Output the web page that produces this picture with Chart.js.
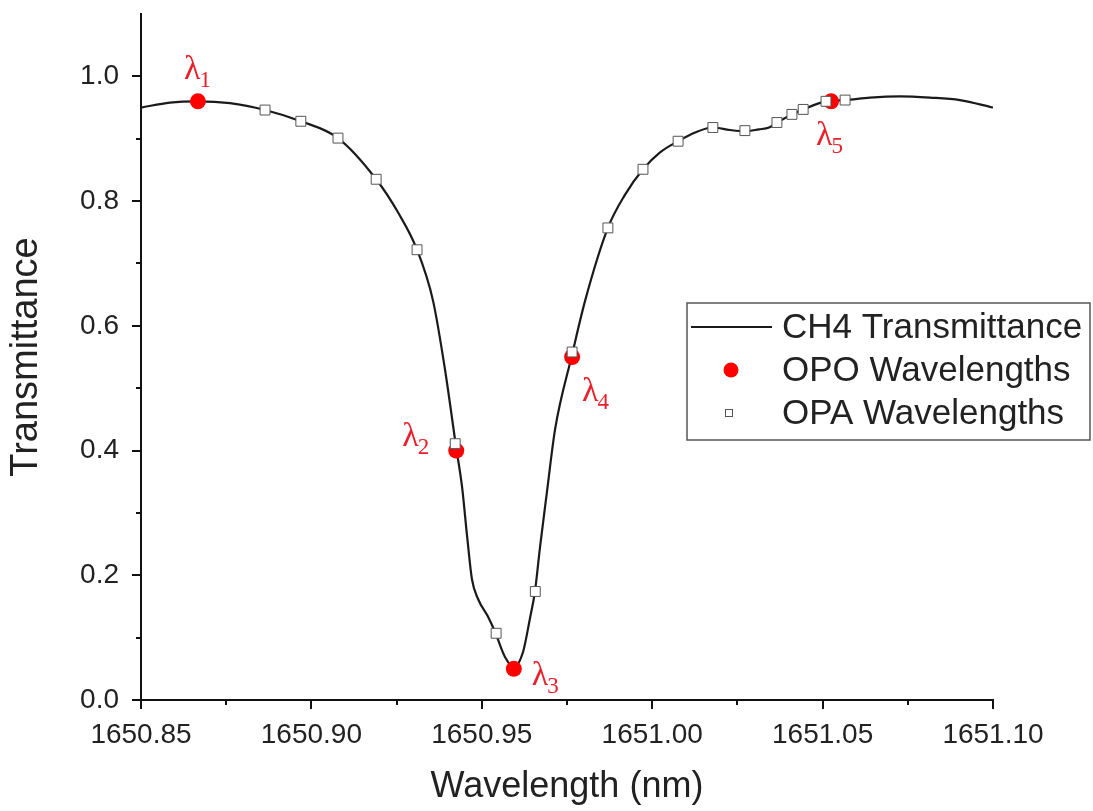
<!DOCTYPE html>
<html>
<head>
<meta charset="utf-8">
<title>CH4 Transmittance</title>
<script src="https://cdn.jsdelivr.net/npm/chart.js@4.4.1/dist/chart.umd.min.js"></script>
<style>
    body { margin: 0; background: #fff; }
    canvas { display: block; }
</style>
</head>
<body>
<canvas id="ch4_chart" width="1093" height="811"></canvas>
<script>
// CH4 transmittance curve (nm, fraction)
const curveWavelength = [
    1650.8500, 1650.8585, 1650.8667, 1650.8761, 1650.8864, 1650.8969, 1650.9078,
    1650.9190, 1650.9254, 1650.9310, 1650.9357, 1650.9392, 1650.9424, 1650.9442, 1650.9457,
    1650.9471, 1650.9489, 1650.9518, 1650.9539, 1650.9568, 1650.9594, 1650.9621, 1650.9641,
    1650.9656, 1650.9671, 1650.9691, 1650.9715, 1650.9765, 1650.9803, 1650.9870,
    1650.9920, 1650.9973, 1651.0023, 1651.0076, 1651.0126, 1651.0178, 1651.0228, 1651.0272,
    1651.0313, 1651.0343, 1651.0366, 1651.0410, 1651.0443, 1651.0510, 1651.0566, 1651.0639,
    1651.0727, 1651.0815, 1651.0903, 1651.1000
];
const curveTransmittance = [
    0.950, 0.958, 0.960, 0.957, 0.946, 0.928, 0.901,
    0.835, 0.782, 0.722, 0.640, 0.530, 0.408, 0.342, 0.262,
    0.194, 0.162, 0.134, 0.109, 0.069, 0.053, 0.077, 0.130,
    0.174, 0.246, 0.333, 0.434, 0.554, 0.640, 0.757,
    0.810, 0.851, 0.878, 0.896, 0.910, 0.918, 0.914, 0.912,
    0.915, 0.918, 0.926, 0.939, 0.947, 0.960, 0.962, 0.966,
    0.968, 0.966, 0.962, 0.950
];

// OPO wavelengths (red dots, λ1..λ5)
const opoWavelength = [1650.8667, 1650.9425, 1650.9594, 1650.9765, 1651.0525];
const opoTransmittance = [0.96, 0.40, 0.05, 0.55, 0.96];
const opoNames = ['1', '2', '3', '4', '5'];

// OPA wavelengths (open squares)
const opaWavelength = [
    1650.8864, 1650.8969, 1650.9078, 1650.9190, 1650.9310, 1650.9422, 1650.9542, 1650.9657,
    1650.9765, 1650.9870, 1650.9973, 1651.0076, 1651.0178, 1651.0272, 1651.0366, 1651.0410,
    1651.0443, 1651.0510, 1651.0566
];
const opaTransmittance = [
    0.946, 0.928, 0.901, 0.835, 0.722, 0.411, 0.107, 0.174,
    0.558, 0.757, 0.851, 0.896, 0.918, 0.913, 0.926, 0.939,
    0.947, 0.960, 0.962
];

// axis ticks (empty label = minor tick)
const xTickValues = [1650.85, 1650.875, 1650.90, 1650.925, 1650.95, 1650.975, 1651.00, 1651.025, 1651.05, 1651.075, 1651.10];
const xTickLabels = ['1650.85', '', '1650.90', '', '1650.95', '', '1651.00', '', '1651.05', '', '1651.10'];
const yTickValues = [0, 0.1, 0.2, 0.3, 0.4, 0.5, 0.6, 0.7, 0.8, 0.9, 1.0];
const yTickLabels = ['0.0', '', '0.2', '', '0.4', '', '0.6', '', '0.8', '', '1.0'];

const toPoints = (xs, ys) => xs.map((x, i) => ({ x: x, y: ys[i] }));

Chart.defaults.font.family = '"Liberation Sans", Arial, sans-serif';
Chart.defaults.color = '#222';

// outward tick marks, long for labelled ticks and short for the others
const tickMarks = {
    id: 'tickMarks',
    afterDraw(chart) {
        const { ctx, chartArea } = chart;
        const x = chart.scales.x;
        const y = chart.scales.y;
        ctx.save();
        ctx.strokeStyle = '#111';
        ctx.lineWidth = 2;
        ctx.beginPath();
        x.ticks.forEach((t) => {
            const px = Math.round(x.getPixelForValue(t.value));
            const len = t.label ? 9 : 5;
            ctx.moveTo(px, chartArea.bottom);
            ctx.lineTo(px, chartArea.bottom + len);
        });
        y.ticks.forEach((t) => {
            const py = Math.round(y.getPixelForValue(t.value));
            const len = t.label ? 9 : 5;
            ctx.moveTo(chartArea.left, py);
            ctx.lineTo(chartArea.left - len, py);
        });
        ctx.stroke();
        ctx.restore();
    }
};

// λ labels next to the OPO points
const lambdaOffsets = [[-14, -22], [-54, -5], [18, 16], [10, 44], [-15, 44]];
const lambdaLabels = {
    id: 'lambdaLabels',
    afterDatasetsDraw(chart) {
        const { ctx } = chart;
        const meta = chart.getDatasetMeta(1);
        ctx.save();
        ctx.fillStyle = '#e8202a';
        ctx.textBaseline = 'alphabetic';
        ctx.textAlign = 'left';
        meta.data.forEach((pt, i) => {
            const [dx, dy] = lambdaOffsets[i];
            const lx = pt.x + dx;
            const ly = pt.y + dy;
            ctx.font = '34px "Liberation Serif", "Times New Roman", serif';
            ctx.fillText('λ', lx, ly);
            const w = ctx.measureText('λ').width;
            ctx.font = '23px "Liberation Serif", "Times New Roman", serif';
            ctx.fillText(opoNames[i], lx + w - 1, ly + 8);
        });
        ctx.restore();
    }
};

// boxed legend inside the plot, right side
const boxLegend = {
    id: 'boxLegend',
    afterDraw(chart) {
        const { ctx } = chart;
        const ds = chart.data.datasets;
        const box = { left: 687, top: 303, width: 403, height: 137 };
        ctx.save();
        ctx.fillStyle = '#fff';
        ctx.fillRect(box.left, box.top, box.width, box.height);
        ctx.strokeStyle = '#555';
        ctx.lineWidth = 1.5;
        ctx.strokeRect(box.left, box.top, box.width, box.height);

        const rows = [ds[2], ds[1], ds[0]];
        const rowY = [327, 370, 413];
        ctx.font = '35px "Liberation Sans", Arial, sans-serif';
        ctx.textBaseline = 'middle';
        rows.forEach((d, i) => {
            const yy = rowY[i];
            if (d.showLine) {
                ctx.strokeStyle = d.borderColor;
                ctx.lineWidth = d.borderWidth;
                ctx.beginPath();
                ctx.moveTo(691, yy);
                ctx.lineTo(772, yy);
                ctx.stroke();
            } else if (d.pointStyle === 'rect') {
                ctx.fillStyle = d.backgroundColor;
                ctx.strokeStyle = d.borderColor;
                ctx.lineWidth = 1;
                ctx.fillRect(725.5, yy - 3.5, 7, 7);
                ctx.strokeRect(725.5, yy - 3.5, 7, 7);
            } else {
                ctx.fillStyle = d.backgroundColor;
                ctx.beginPath();
                ctx.arc(731, yy, 7.5, 0, Math.PI * 2);
                ctx.fill();
            }
            ctx.fillStyle = '#222';
            ctx.fillText(d.label, 782, yy + 1);
        });
        ctx.restore();
    }
};

new Chart(document.getElementById('ch4_chart'), {
    type: 'scatter',
    data: {
        datasets: [
            {
                label: 'OPA Wavelengths',
                data: toPoints(opaWavelength, opaTransmittance),
                pointStyle: 'rect',
                pointRadius: 7,
                backgroundColor: '#fff',
                borderColor: '#555',
                borderWidth: 1,
                order: 0
            },
            {
                label: 'OPO Wavelengths',
                data: toPoints(opoWavelength, opoTransmittance),
                pointStyle: 'circle',
                pointRadius: 8,
                backgroundColor: '#ff0000',
                borderColor: '#ff0000',
                borderWidth: 0,
                order: 1
            },
            {
                label: 'CH4 Transmittance',
                data: toPoints(curveWavelength, curveTransmittance),
                showLine: true,
                pointRadius: 0,
                borderColor: '#1a1a1a',
                borderWidth: 2.2,
                cubicInterpolationMode: 'monotone',
                order: 2
            }
        ]
    },
    options: {
        responsive: false,
        animation: false,
        layout: { padding: { left: 0, top: 14, right: 100, bottom: 0 } },
        plugins: {
            legend: { display: false },
            tooltip: { enabled: false }
        },
        scales: {
            x: {
                type: 'linear',
                min: 1650.85,
                max: 1651.10,
                afterBuildTicks: (scale) => {
                    scale.ticks = xTickValues.map((v) => ({ value: v }));
                },
                afterFit: (scale) => {
                    scale.height = 111;
                    scale.paddingLeft = 0;
                    scale.paddingRight = 0;
                },
                ticks: {
                    callback: (value, index) => xTickLabels[index],
                    autoSkip: false,
                    maxRotation: 0,
                    padding: 18,
                    font: { size: 28 },
                    color: '#222'
                },
                grid: { display: false, drawTicks: false },
                border: { display: true, color: '#111', width: 2 },
                title: {
                    display: true,
                    text: 'Wavelength (nm)',
                    font: { size: 36 },
                    color: '#222',
                    padding: { top: 0, bottom: 2 }
                }
            },
            y: {
                type: 'linear',
                min: 0,
                max: 1.1,
                afterBuildTicks: (scale) => {
                    scale.ticks = yTickValues.map((v) => ({ value: v }));
                },
                afterFit: (scale) => {
                    scale.width = 141;
                    scale.paddingTop = 0;
                    scale.paddingBottom = 0;
                },
                ticks: {
                    callback: (value, index) => yTickLabels[index],
                    autoSkip: false,
                    padding: 22,
                    font: { size: 28 },
                    color: '#222'
                },
                grid: { display: false, drawTicks: false },
                border: { display: true, color: '#111', width: 2 },
                title: {
                    display: true,
                    text: 'Transmittance',
                    font: { size: 38 },
                    color: '#222',
                    padding: { top: 4, bottom: 0 }
                }
            }
        }
    },
    plugins: [tickMarks, lambdaLabels, boxLegend]
});
</script>
</body>
</html>
